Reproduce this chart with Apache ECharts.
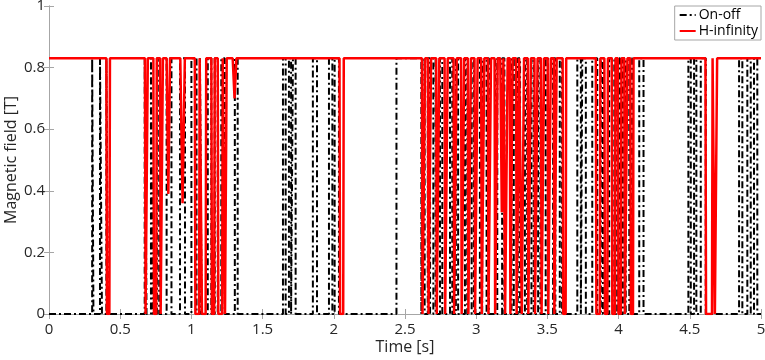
<!DOCTYPE html>
<html>
<head>
<meta charset="utf-8">
<script src="https://cdn.jsdelivr.net/npm/echarts@6/dist/echarts.min.js"></script>
<style>
html, body { margin: 0; padding: 0; background: #fff; }
#chart { width: 765px; height: 360px; }
</style>
</head>
<body>
<div id="chart"></div>
<script>
// field level when the damper is switched on [T]
const onLevel = 0.83;

// On-off controller: times [s] where the field switches on / off
const onOffUp = [0.303, 0.358, 0.403, 0.672, 0.716, 0.758, 0.826, 0.920, 1.000, 1.060, 1.115, 1.164, 1.210, 1.305,
    1.643, 1.685, 1.713, 1.853, 1.966, 2.006, 2.440,
    2.622, 2.660, 2.699, 2.746, 2.816, 2.857, 2.921, 2.968, 3.026, 3.073, 3.132, 3.182, 3.248, 3.292, 3.342, 3.388,
    3.435, 3.488, 3.540, 3.587,
    3.710, 3.745, 3.815, 3.875, 3.934, 3.990, 4.030, 4.075, 4.145, 4.490, 4.530, 4.577, 4.846, 4.904, 4.951];
const onOffDown = [0.312, 0.372, 0.414, 0.685, 0.730, 0.774, 0.860, 0.955, 1.036, 1.072, 1.140, 1.185, 1.234, 1.325,
    1.662, 1.700, 1.732, 1.882, 1.990, 2.036, 2.615,
    2.638, 2.676, 2.715, 2.762, 2.832, 2.873, 2.937, 2.984, 3.042, 3.089, 3.148, 3.198, 3.264, 3.308, 3.358, 3.404,
    3.451, 3.504, 3.556, 3.603,
    3.735, 3.770, 3.850, 3.890, 3.970, 4.010, 4.050, 4.095, 4.175, 4.507, 4.546, 4.612, 4.869, 4.928, 4.974];

// H-infinity controller: dips below the on level (start, end, lowest field)
const hinfDown = [0.403, 0.674, 0.733, 0.780, 0.826, 0.922, 1.024, 1.070, 1.140, 1.185, 1.232, 1.290, 2.040,
    2.619, 2.661, 2.719, 2.778, 2.841, 2.894, 2.941, 2.988, 3.035, 3.082, 3.129, 3.169, 3.199, 3.236, 3.280, 3.316,
    3.362, 3.409, 3.455, 3.502, 3.545, 3.607,
    3.840, 3.900, 3.952, 3.995, 4.040, 4.082, 4.610, 4.672];
const hinfUp = [0.428, 0.694, 0.757, 0.800, 0.850, 0.954, 1.058, 1.104, 1.164, 1.220, 1.248, 1.316, 2.070,
    2.641, 2.683, 2.741, 2.800, 2.863, 2.916, 2.963, 3.010, 3.057, 3.104, 3.151, 3.191, 3.221, 3.256, 3.302, 3.336,
    3.384, 3.431, 3.477, 3.524, 3.565, 3.632,
    3.872, 3.925, 3.978, 4.020, 4.062, 4.105, 4.660, 4.692];
const hinfLow = [0, 0, 0, 0, 0.39, 0.36, 0, 0, 0, 0, 0, 0.70, 0,
    0, 0, 0, 0, 0, 0, 0, 0, 0, 0, 0, 0.33, 0, 0, 0, 0,
    0, 0, 0, 0, 0, 0,
    0, 0, 0, 0, 0, 0, 0, 0];

function onOffData() {
    var pts = [[0, 0]];
    for (var i = 0; i < onOffUp.length; i++) {
        pts.push([onOffUp[i], 0], [onOffUp[i], onLevel], [onOffDown[i], onLevel], [onOffDown[i], 0]);
    }
    pts.push([5, 0]);
    return pts;
}

function hinfData() {
    var pts = [[0, onLevel]];
    for (var i = 0; i < hinfDown.length; i++) {
        var a = hinfDown[i], b = hinfUp[i], low = hinfLow[i];
        if (low > 0) {
            pts.push([a, onLevel], [(a + b) / 2, low], [b, onLevel]);
        } else {
            var r = Math.min(0.004, (b - a) / 2);
            pts.push([a, onLevel], [a + r, low], [b - r, low], [b, onLevel]);
        }
    }
    pts.push([5, onLevel]);
    return pts;
}

var axisGray = '#a6a6a6';
var font = 'Open Sans';

var option = {
    animation: false,
    grid: { left: 49, right: 4, top: 6, bottom: 46, outerBoundsMode: 'none' },
    legend: {
        top: 6, right: 4, orient: 'vertical',
        backgroundColor: '#fff', borderColor: axisGray, borderWidth: 1,
        padding: [2, 3, 2, 4], itemGap: 2, itemWidth: 16, itemHeight: 14,
        itemStyle: { opacity: 0 },
        textStyle: { fontFamily: font, fontSize: 14, color: '#000', padding: [0, 0, 0, -2] },
        data: ['On-off', 'H-infinity']
    },
    xAxis: [{
        type: 'value', min: 0, max: 5, interval: 0.5,
        name: 'Time [s]', nameLocation: 'middle', nameGap: 25, nameMoveOverlap: false,
        nameTextStyle: { fontFamily: font, fontSize: 16, color: '#262626' },
        axisLine: { lineStyle: { color: axisGray } },
        axisTick: { inside: true, length: 5, lineStyle: { color: axisGray } },
        axisLabel: { fontFamily: font, fontSize: 15, color: '#262626', margin: 8 },
        splitLine: { show: false }
    }, {
        type: 'value', min: 0, max: 5, interval: 0.5, position: 'top',
        axisLine: { show: true, lineStyle: { color: axisGray } },
        axisTick: { show: true, inside: true, length: 5, lineStyle: { color: axisGray } },
        axisLabel: { show: false }, splitLine: { show: false }
    }],
    yAxis: [{
        type: 'value', min: 0, max: 1, interval: 0.2,
        name: 'Magnetic field [T]', nameLocation: 'middle', nameGap: 30, nameMoveOverlap: false,
        nameTextStyle: { fontFamily: font, fontSize: 16, color: '#262626' },
        axisLine: { show: true, lineStyle: { color: axisGray } },
        axisTick: { show: true, inside: true, length: 5, lineStyle: { color: axisGray } },
        axisLabel: { fontFamily: font, fontSize: 15, color: '#262626', margin: 4 },
        splitLine: { show: false }
    }, {
        type: 'value', min: 0, max: 1, interval: 0.2, position: 'right',
        axisLine: { show: true, lineStyle: { color: axisGray } },
        axisTick: { show: true, inside: true, length: 5, lineStyle: { color: axisGray } },
        axisLabel: { show: false }, splitLine: { show: false }
    }],
    series: [{
        name: 'On-off', type: 'line', data: onOffData(),
        showSymbol: false, symbol: 'none',
        lineStyle: { color: '#000', width: 2, type: [7, 3, 2, 3] },
        itemStyle: { color: '#000' }
    }, {
        name: 'H-infinity', type: 'line', data: hinfData(),
        showSymbol: false, symbol: 'none',
        lineStyle: { color: '#ff0000', width: 2.5 },
        itemStyle: { color: '#ff0000' }
    }]
};

var myChart = echarts.init(document.getElementById('chart'));
myChart.setOption(option);
</script>
</body>
</html>
